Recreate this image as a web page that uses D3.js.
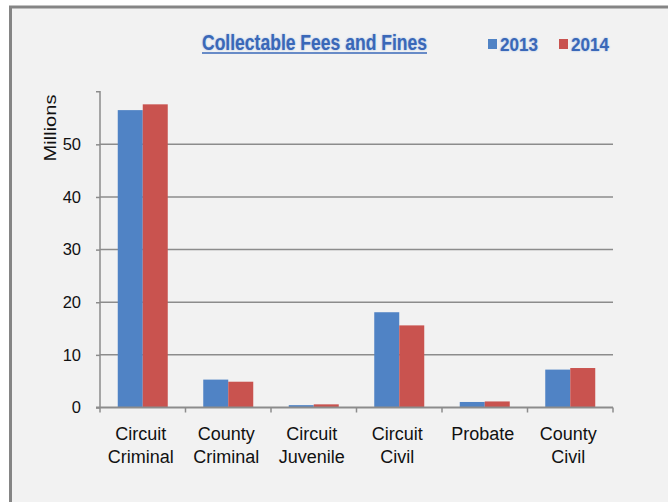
<!DOCTYPE html>
<html>
<head>
<meta charset="utf-8">
<script src="https://cdn.jsdelivr.net/npm/d3@7"></script>
<style>
  html, body { margin: 0; padding: 0; background: #ffffff; }
  svg { display: block; }
  .ttl { text-shadow: 0 0 2px rgba(120,160,220,0.8); }
</style>
</head>
<body>
<svg id="chart" width="668" height="502"></svg>
<script>
const categories = [["Circuit", "Criminal"], ["County", "Criminal"], ["Circuit", "Juvenile"], ["Circuit", "Civil"], ["Probate"], ["County", "Civil"]];
const seriesNames = ["2013", "2014"];
const values2013 = [56.5, 5.3, 0.45, 18.1, 1.05, 7.2];
const values2014 = [57.6, 4.9, 0.6, 15.6, 1.15, 7.5];
const yTicks = [0, 10, 20, 30, 40, 50];
const colors = ["#5083C5", "#C9534F"];
const seriesValues = [values2013, values2014];

const svg = d3.select("#chart");

// background panel with border
svg.append("rect").attr("x", 10.5).attr("y", 7).attr("width", 670).attr("height", 510)
  .attr("fill", "#F2F2F2").attr("stroke", "#858585").attr("stroke-width", 3);

const pLeft = 100, pRight = 613, pTop = 91.7, pBottom = 407.5;
const catKeys = categories.map((c, i) => i);
const x0 = d3.scaleBand().domain(catKeys).range([pLeft, pRight]).paddingInner(0).paddingOuter(0);
const x1 = d3.scaleBand().domain(seriesNames).range([0, x0.bandwidth()]).paddingInner(0).paddingOuter(0.71);
const y = d3.scaleLinear().domain([0, 60]).range([pBottom, pTop]);

// gridlines
svg.append("g").selectAll("line").data(yTicks.filter(t => t > 0)).join("line")
  .attr("x1", pLeft).attr("x2", pRight)
  .attr("y1", d => y(d)).attr("y2", d => y(d))
  .attr("stroke", "#8C8C8C").attr("stroke-width", 1.5);

// bars
const groups = svg.append("g").selectAll("g").data(catKeys).join("g")
  .attr("transform", d => `translate(${x0(d)},0)`);
groups.selectAll("rect").data(i => seriesNames.map((s, k) => ({ s, k, v: seriesValues[k][i] }))).join("rect")
  .attr("x", d => x1(d.s))
  .attr("width", x1.bandwidth())
  .attr("y", d => y(d.v))
  .attr("height", d => y(0) - y(d.v))
  .attr("fill", d => colors[d.k]);

// y axis
const yAxis = d3.axisLeft(y).tickValues(yTicks).tickSize(4).tickPadding(15).tickFormat(d3.format("d"));
const gy = svg.append("g").attr("transform", `translate(${pLeft},0)`).call(yAxis);
gy.select(".domain").attr("stroke", "#8C8C8C").attr("stroke-width", 1.5).attr("d", `M-4,${pTop}H0V${pBottom}`);
gy.selectAll(".tick line").attr("stroke", "#8C8C8C").attr("stroke-width", 1.5);
gy.selectAll(".tick text").attr("font-family", "Liberation Sans, Arial, sans-serif").attr("font-size", 16.5).attr("fill", "#111");

// x axis
const xAxis = d3.axisBottom(x0).tickSize(0).tickFormat("");
const gx = svg.append("g").attr("transform", `translate(0,${pBottom})`).call(xAxis);
gx.select(".domain").attr("stroke", "#8C8C8C").attr("stroke-width", 2).attr("d", `M${pLeft - 4},0H${pRight}`);
gx.selectAll(".tick").remove();
const bounds = catKeys.map(k => x0(k)).concat([pRight]);
gx.selectAll("line.sep").data(bounds).join("line").attr("class", "sep")
  .attr("x1", d => d).attr("x2", d => d).attr("y1", 0).attr("y2", 5)
  .attr("stroke", "#8C8C8C").attr("stroke-width", 1.5);

// category labels
const lab = svg.append("g").selectAll("text").data(catKeys).join("text")
  .attr("x", d => x0(d) + x0.bandwidth() / 2 - 2)
  .attr("y", 440)
  .attr("text-anchor", "middle")
  .attr("font-family", "Liberation Sans, Arial, sans-serif")
  .attr("font-size", 18)
  .attr("fill", "#111");
lab.selectAll("tspan").data(d => categories[d].map(t => ({ t, x: x0(d) + x0.bandwidth() / 2 - 2 }))).join("tspan")
  .attr("x", d => d.x)
  .attr("dy", (d, i) => i === 0 ? 0 : 23)
  .text(d => d.t);

// y axis title
svg.append("text")
  .attr("transform", "translate(56,128) rotate(-90)")
  .attr("text-anchor", "middle")
  .attr("font-family", "Liberation Sans, Arial, sans-serif")
  .attr("font-size", 17)
  .attr("textLength", 67).attr("lengthAdjust", "spacingAndGlyphs")
  .attr("fill", "#111")
  .text("Millions");

// title
svg.append("text").attr("class", "ttl")
  .attr("x", 202).attr("y", 49.5)
  .attr("font-family", "Liberation Sans, Arial, sans-serif")
  .attr("font-weight", "bold")
  .attr("font-size", 22)
  .attr("textLength", 225).attr("lengthAdjust", "spacingAndGlyphs")
  .attr("fill", "#3A68B8")
  .text("Collectable Fees and Fines");
svg.append("line").attr("x1", 202).attr("x2", 427).attr("y1", 53).attr("y2", 53)
  .attr("stroke", "#3A68B8").attr("stroke-width", 1.5);

// legend
const legX = [488, 559];
const leg = svg.append("g").selectAll("g").data(seriesNames).join("g")
  .attr("transform", (d, i) => `translate(${legX[i]},0)`);
leg.append("rect").attr("x", 0).attr("y", 39).attr("width", 9).attr("height", 10)
  .attr("fill", (d, i) => colors[i]);
leg.append("text").attr("class", "ttl")
  .attr("x", 12).attr("y", 50.5)
  .attr("font-family", "Liberation Sans, Arial, sans-serif")
  .attr("font-weight", "bold")
  .attr("font-size", 19)
  .attr("textLength", 38).attr("lengthAdjust", "spacingAndGlyphs")
  .attr("fill", "#3A68B8")
  .text(d => d);
</script>
</body>
</html>
